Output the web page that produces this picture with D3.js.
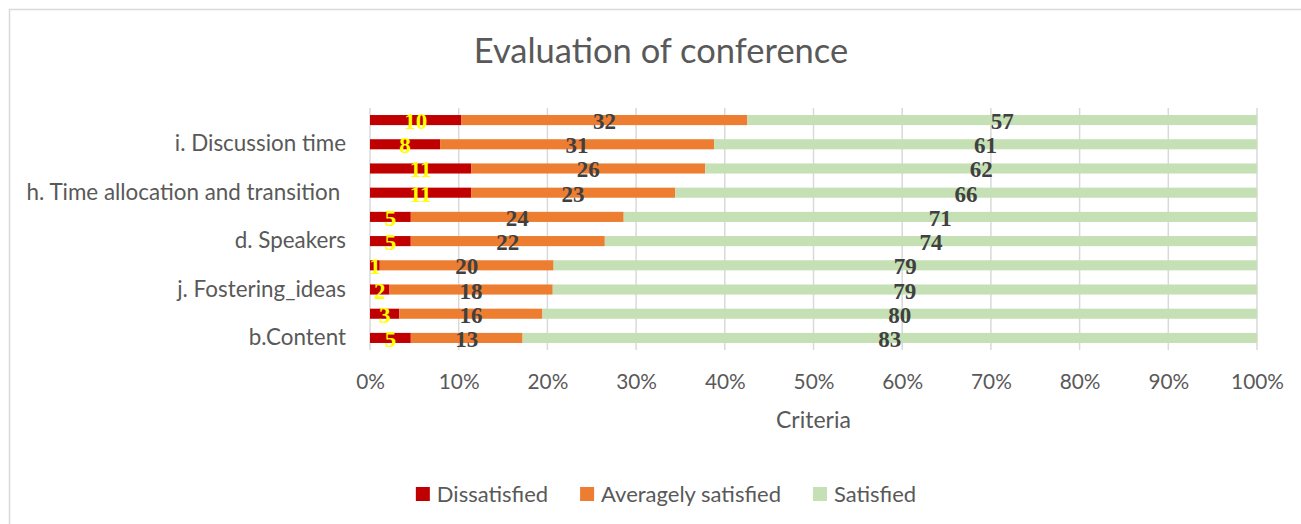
<!DOCTYPE html>
<html>
<head>
<meta charset="utf-8">
<script src="https://cdn.jsdelivr.net/npm/d3@7"></script>
<style>
    body { margin: 0; background: #fff; }
    text { font-family: Lato, "Open Sans", sans-serif; }
</style>
</head>
<body>
<svg id="canvas"></svg>
<script>
// categories from top to bottom (only every other one carries a visible label, as in the original)
const categories = ['g.', 'i. Discussion time', 'f.', 'h. Time allocation and transition ', 'e.',
    'd. Speakers', 'c.', 'j. Fostering_ideas', 'a.', 'b.Content']
const showLabel = [false, true, false, true, false, true, false, true, false, true]

const seriesNames = ['Dissatisfied', 'Averagely satisfied', 'Satisfied']
const dissatisfied = [10.3, 7.9, 11.4, 11.4, 4.6, 4.6, 1.1, 2.2, 3.3, 4.6]
const averagely = [32.2, 30.9, 26.4, 23.0, 24.0, 21.9, 19.6, 18.4, 16.1, 12.6]
const satisfied = [57.4, 61.2, 62.2, 65.6, 71.4, 73.6, 79.3, 79.4, 80.4, 82.8]
const xTicks = [0, 0.1, 0.2, 0.3, 0.4, 0.5, 0.6, 0.7, 0.8, 0.9, 1]

const colors = ['#c00000', '#ed7d31', '#c5e0b4']
const labelColors = ['#ffff00', '#404040', '#404040']

let width = 1301
let height = 524
let svg = d3.select('#canvas')
    .attr('width', width)
    .attr('height', height)

// chart frame
svg.append('rect')
    .attr('x', 9.5)
    .attr('y', 9.5)
    .attr('width', 1320)
    .attr('height', 540)
    .attr('fill', '#fff')
    .attr('stroke', '#d9d9d9')
    .attr('stroke-width', 1.5)

let plot = { left: 370, right: 1257, top: 108, bottom: 350 }

let rows = categories.map((c, i) => ({
    cat: c,
    'Dissatisfied': dissatisfied[i],
    'Averagely satisfied': averagely[i],
    'Satisfied': satisfied[i]
}))

let stack = d3.stack()
    .keys(seriesNames)
    .offset(d3.stackOffsetExpand)
let layers = stack(rows)

let xScale = d3.scaleLinear()
    .domain([0, 1])
    .range([plot.left, plot.right])

let yScale = d3.scaleBand()
    .domain(categories)
    .range([plot.top, plot.bottom])
    .paddingInner(0.583)
    .paddingOuter(0.29)

// gridlines
svg.append('g')
    .selectAll('line')
    .data(xTicks)
    .enter()
    .append('line')
    .attr('x1', (d) => xScale(d))
    .attr('x2', (d) => xScale(d))
    .attr('y1', plot.top)
    .attr('y2', plot.bottom)
    .attr('stroke', '#d9d9d9')
    .attr('stroke-width', 1.5)

// x axis
let xAxis = d3.axisBottom(xScale)
    .tickValues(xTicks)
    .tickFormat(d3.format('.0%'))
    .tickSize(0)
    .tickPadding(0)
let gx = svg.append('g')
    .attr('id', 'x-axis')
    .attr('transform', 'translate(0,' + plot.bottom + ')')
    .call(xAxis)
gx.select('.domain').remove()
gx.selectAll('text')
    .attr('dy', null)
    .attr('y', 39)
    .attr('fill', '#595959')
    .style('font-size', '20.8px')
    .style('font-family', 'Lato')

// y axis (keep the trailing space of the h. label, like the original)
let yAxis = d3.axisLeft(yScale)
    .tickFormat((d, i) => showLabel[i] ? d : '')
    .tickSize(0)
    .tickPadding(24)
let gy = svg.append('g')
    .attr('id', 'y-axis')
    .attr('transform', 'translate(' + plot.left + ',0)')
    .call(yAxis)
gy.select('.domain').remove()
gy.selectAll('text')
    .attr('fill', '#595959')
    .style('font-size', '22.4px')
    .style('font-family', 'Lato')
    .style('white-space', 'pre')

// bars
let groups = svg.append('g')
    .selectAll('g')
    .data(layers)
    .enter()
    .append('g')
    .attr('fill', (d, i) => colors[i])

groups.selectAll('rect')
    .data((d) => d)
    .enter()
    .append('rect')
    .attr('x', (d) => xScale(d[0]))
    .attr('y', (d) => yScale(d.data.cat))
    .attr('width', (d) => xScale(d[1]) - xScale(d[0]))
    .attr('height', yScale.bandwidth())

// data labels
layers.forEach((layer, i) => {
    svg.append('g')
        .selectAll('text')
        .data(layer)
        .enter()
        .append('text')
        .attr('x', (d) => (xScale(d[0]) + xScale(d[1])) / 2)
        .attr('y', (d) => yScale(d.data.cat) + yScale.bandwidth() / 2 + 9)
        .attr('text-anchor', 'middle')
        .attr('fill', labelColors[i])
        .style('font-family', '"Liberation Serif", "Times New Roman", serif')
        .style('font-weight', 'bold')
        .style('font-size', '23px')
        .text((d) => Math.round(d.data[layer.key]))
})

// title
svg.append('text')
    .attr('x', 661)
    .attr('y', 63)
    .attr('text-anchor', 'middle')
    .attr('fill', '#595959')
    .style('font-size', '34.5px')
    .text('Evaluation of conference')

// axis title
svg.append('text')
    .attr('x', (plot.left + plot.right) / 2)
    .attr('y', 428)
    .attr('text-anchor', 'middle')
    .attr('fill', '#595959')
    .style('font-size', '23px')
    .text('Criteria')

// legend
let legend = svg.append('g')
let lx = 0
seriesNames.forEach((name, i) => {
    let item = legend.append('g').attr('transform', 'translate(' + lx + ',0)')
    item.append('rect')
        .attr('x', 0)
        .attr('y', -7)
        .attr('width', 14)
        .attr('height', 14)
        .attr('fill', colors[i])
    let t = item.append('text')
        .attr('x', 21)
        .attr('y', 8)
        .attr('fill', '#595959')
        .style('font-size', '22px')
        .text(name)
    lx += 21 + t.node().getComputedTextLength() + 32
})
let legendWidth = lx - 32
legend.attr('transform', 'translate(' + (666 - legendWidth / 2) + ',494)')
</script>
</body>
</html>
